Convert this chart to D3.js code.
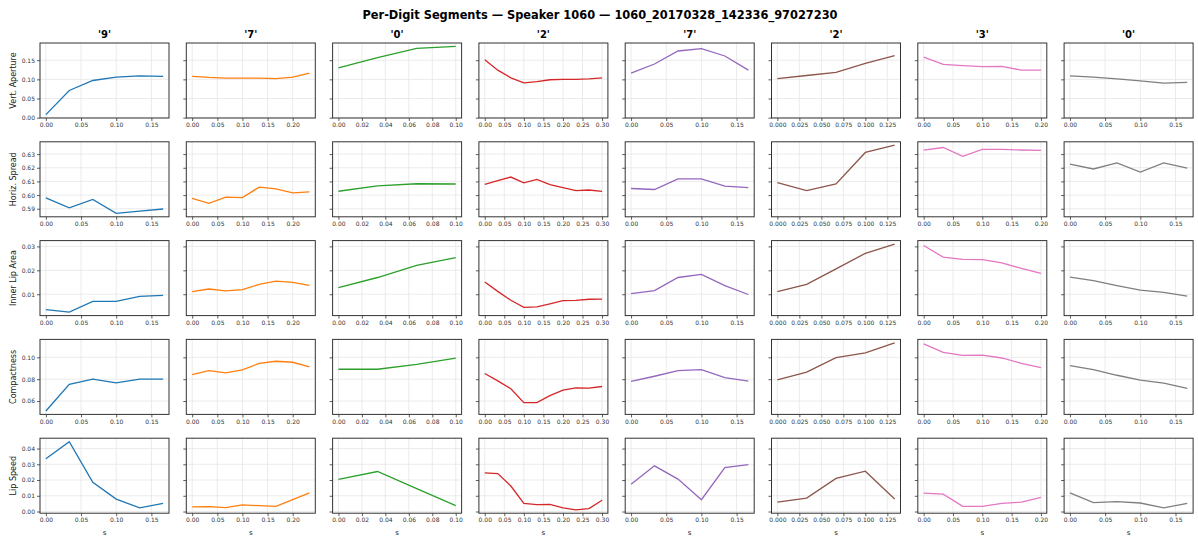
<!DOCTYPE html>
<html>
<head>
<meta charset="utf-8">
<script src="https://cdn.jsdelivr.net/npm/d3@7"></script>
<style>
    body { margin: 0; background: white; }
    svg { display: block; font-family: "DejaVu Sans", sans-serif; }
</style>
</head>
<body>
<svg id="chart"></svg>
<script>
//Chart data
var chartTitle = "Per-Digit Segments \u2014 Speaker 1060 \u2014 1060_20170328_142336_97027230";
var digits = ["'9'", "'7'", "'0'", "'2'", "'7'", "'2'", "'3'", "'0'"];
var features = ["Vert. Aperture", "Horiz. Spread", "Inner Lip Area", "Compactness", "Lip Speed"];
var frameTimes = [0, 0.0333, 0.0667, 0.1, 0.1333, 0.1667, 0.2, 0.2333, 0.2667, 0.3];

var vertAperture = [
    [0.008, 0.071, 0.097, 0.106, 0.109, 0.108],
    [0.108, 0.105, 0.103, 0.103, 0.103, 0.102, 0.106, 0.116],
    [0.130, 0.157, 0.181, 0.186],
    [0.151, 0.124, 0.104, 0.091, 0.094, 0.099, 0.100, 0.100, 0.101, 0.104],
    [0.116, 0.140, 0.174, 0.180, 0.161, 0.124],
    [0.102, 0.110, 0.118, 0.142, 0.162],
    [0.158, 0.139, 0.136, 0.133, 0.134, 0.124, 0.124],
    [0.109, 0.106, 0.101, 0.096, 0.090, 0.092]
];
var horizSpread = [
    [0.598, 0.5906, 0.5968, 0.5866, 0.5882, 0.5898],
    [0.5975, 0.5939, 0.5985, 0.5982, 0.6058, 0.6045, 0.6016, 0.6024],
    [0.6028, 0.6068, 0.6083, 0.6081],
    [0.6078, 0.6105, 0.6132, 0.609, 0.6115, 0.6076, 0.6054, 0.6032, 0.6037, 0.6027],
    [0.6048, 0.6041, 0.6118, 0.6118, 0.6065, 0.6055],
    [0.6092, 0.6033, 0.6082, 0.6312, 0.6365],
    [0.6329, 0.6348, 0.6283, 0.6334, 0.6334, 0.6330, 0.6327],
    [0.6227, 0.6191, 0.6235, 0.6169, 0.6235, 0.6198]
];
var innerLipArea = [
    [0.0036, 0.0025, 0.0070, 0.0070, 0.0091, 0.0095],
    [0.0111, 0.0122, 0.0114, 0.0119, 0.0141, 0.0155, 0.0150, 0.0137],
    [0.0128, 0.0170, 0.0221, 0.0253],
    [0.0151, 0.0112, 0.0075, 0.0045, 0.0047, 0.0060, 0.0073, 0.0074, 0.0079, 0.0080],
    [0.0103, 0.0115, 0.0170, 0.0183, 0.0136, 0.0099],
    [0.0111, 0.0141, 0.0206, 0.0271, 0.0310],
    [0.0304, 0.0255, 0.0246, 0.0245, 0.0231, 0.0208, 0.0187],
    [0.0172, 0.0157, 0.0136, 0.0117, 0.0108, 0.0092]
];
var compactness = [
    [0.0509, 0.0752, 0.0800, 0.0767, 0.0800, 0.0800],
    [0.0842, 0.0879, 0.0858, 0.0885, 0.0945, 0.0964, 0.0955, 0.0912],
    [0.0891, 0.0891, 0.0935, 0.0993],
    [0.0852, 0.0785, 0.0712, 0.0585, 0.0585, 0.0650, 0.0700, 0.0720, 0.0718, 0.0733],
    [0.0779, 0.0827, 0.0879, 0.0888, 0.0815, 0.0782],
    [0.0794, 0.0864, 0.0997, 0.1040, 0.1133],
    [0.1124, 0.1045, 0.1018, 0.1021, 0.0994, 0.0945, 0.0906],
    [0.0924, 0.0888, 0.0836, 0.0791, 0.0764, 0.0715]
];
var lipSpeed = [
    [0.0335, 0.0444, 0.0185, 0.0079, 0.0023, 0.0052],
    [0.0029, 0.0031, 0.0025, 0.0042, 0.0037, 0.0033, 0.0075, 0.0119],
    [0.0204, 0.0254, 0.0146, 0.0037],
    [0.0245, 0.0241, 0.0162, 0.0051, 0.0044, 0.0046, 0.0023, 0.0011, 0.0019, 0.0072],
    [0.0173, 0.0290, 0.0206, 0.0075, 0.0279, 0.0298],
    [0.0060, 0.0085, 0.0210, 0.0256, 0.0079],
    [0.0117, 0.0110, 0.0033, 0.0033, 0.0052, 0.0060, 0.0090],
    [0.0119, 0.0056, 0.0063, 0.0054, 0.0023, 0.0052]
];
var featureValues = [vertAperture, horizSpread, innerLipArea, compactness, lipSpeed];

//Tick values
var xTicks = [
    [0, 0.05, 0.10, 0.15],
    [0, 0.05, 0.10, 0.15, 0.20],
    [0, 0.02, 0.04, 0.06, 0.08, 0.10],
    [0, 0.05, 0.10, 0.15, 0.20, 0.25, 0.30],
    [0, 0.05, 0.10, 0.15],
    [0, 0.025, 0.05, 0.075, 0.10, 0.125],
    [0, 0.05, 0.10, 0.15, 0.20],
    [0, 0.05, 0.10, 0.15]
];
var yTicks = [
    [0, 0.05, 0.10, 0.15],
    [0.59, 0.60, 0.61, 0.62, 0.63],
    [0.01, 0.02, 0.03],
    [0.06, 0.08, 0.10],
    [0, 0.01, 0.02, 0.03, 0.04]
];

//Tab10 colours
var colors = ["#1f77b4", "#ff7f0e", "#2ca02c", "#d62728", "#9467bd", "#8c564b", "#e377c2", "#7f7f7f"];

//Dimensions
var dimensions = {
    width: 1198,
    height: 542,
    left: 40,
    top: 43,
    colStep: 146.3,
    rowStep: 98.8,
    panelW: 129,
    panelH: 75
};

var svg = d3.select("#chart")
            .attr("width", dimensions.width)
            .attr("height", dimensions.height);

//Title
svg.append("text")
    .attr("x", 600)
    .attr("y", 19)
    .attr("text-anchor", "middle")
    .style("font-size", "11.4px")
    .style("font-weight", "bold")
    .text(chartTitle);

//Pads a domain like matplotlib (5%)
function padded(ext) {
    var p = (ext[1] - ext[0]) * 0.05;
    return [ext[0] - p, ext[1] + p];
}

//Decimals for tick labels
function tickFormatFor(ticks) {
    var needs3 = ticks.some(function(t){ return Math.abs(t * 100 - Math.round(t * 100)) > 1e-6; });
    return d3.format(needs3 ? ".3f" : ".2f");
}

features.forEach(function(feature, r) {

    //Shared y scale for the row
    var allVals = d3.merge(featureValues[r]);
    var yScale = d3.scaleLinear()
                   .domain(padded(d3.extent(allVals)))
                   .range([dimensions.panelH, 0]);

    var y0 = dimensions.top + r * dimensions.rowStep;

    //Row label
    svg.append("text")
        .attr("transform", "rotate(-90)")
        .attr("x", -(y0 + dimensions.panelH / 2))
        .attr("y", 16)
        .attr("text-anchor", "middle")
        .style("font-size", "8px")
        .style("fill", "#222")
        .text(feature);

    digits.forEach(function(digit, c) {
        var values = featureValues[r][c];
        var points = values.map(function(v, i){ return { t: frameTimes[i], v: v }; });
        var x0 = dimensions.left + c * dimensions.colStep;

        var xScale = d3.scaleLinear()
                       .domain(padded([0, frameTimes[values.length - 1]]))
                       .range([0, dimensions.panelW]);

        var g = svg.append("g").attr("transform", "translate(" + x0 + "," + y0 + ")");

        //Column title
        if (r === 0) {
            g.append("text")
                .attr("x", dimensions.panelW / 2)
                .attr("y", -5)
                .attr("text-anchor", "middle")
                .style("font-size", "10px")
                .style("font-weight", "bold")
                .text(digit);
        }

        //Grid
        g.selectAll(".vgrid")
            .data(xTicks[c])
            .join("line")
            .attr("x1", function(d){ return xScale(d); })
            .attr("x2", function(d){ return xScale(d); })
            .attr("y1", 0)
            .attr("y2", dimensions.panelH)
            .style("stroke", "#e6e6e6")
            .style("stroke-width", 0.8);
        g.selectAll(".hgrid")
            .data(yTicks[r])
            .join("line")
            .attr("x1", 0)
            .attr("x2", dimensions.panelW)
            .attr("y1", function(d){ return yScale(d); })
            .attr("y2", function(d){ return yScale(d); })
            .style("stroke", "#e6e6e6")
            .style("stroke-width", 0.8);

        //X-axis
        var xAxis = g.append("g")
                     .attr("transform", "translate(0," + dimensions.panelH + ")")
                     .call(d3.axisBottom(xScale)
                             .tickValues(xTicks[c])
                             .tickFormat(tickFormatFor(xTicks[c]))
                             .tickSize(3)
                             .tickPadding(2));

        //Y-axis
        var yAxisGen = d3.axisLeft(yScale)
                         .tickValues(yTicks[r])
                         .tickSize(3)
                         .tickPadding(2);
        if (c > 0) yAxisGen.tickFormat("");
        else yAxisGen.tickFormat(d3.format(".2f"));
        var yAxis = g.append("g").call(yAxisGen);

        [xAxis, yAxis].forEach(function(ax){
            ax.select(".domain").remove();
            ax.selectAll("line").style("stroke", "#333").style("stroke-width", 0.8);
            ax.selectAll("text")
              .style("font-size", "6px")
              .style("font-family", "DejaVu Sans, sans-serif")
              .style("fill", "#333");
        });

        //Data line
        g.append("path")
            .datum(points)
            .attr("d", d3.line()
                         .x(function(d){ return xScale(d.t); })
                         .y(function(d){ return yScale(d.v); }))
            .style("fill", "none")
            .style("stroke", colors[c])
            .style("stroke-width", 1.3);

        //Frame
        g.append("rect")
            .attr("width", dimensions.panelW)
            .attr("height", dimensions.panelH)
            .style("fill", "none")
            .style("stroke", "#333")
            .style("stroke-width", 1);

        //X label
        if (r === features.length - 1) {
            g.append("text")
                .attr("x", dimensions.panelW / 2)
                .attr("y", dimensions.panelH + 22)
                .attr("text-anchor", "middle")
                .style("font-size", "7px")
                .style("fill", "#222")
                .text("s");
        }
    });
});
</script>
</body>
</html>
